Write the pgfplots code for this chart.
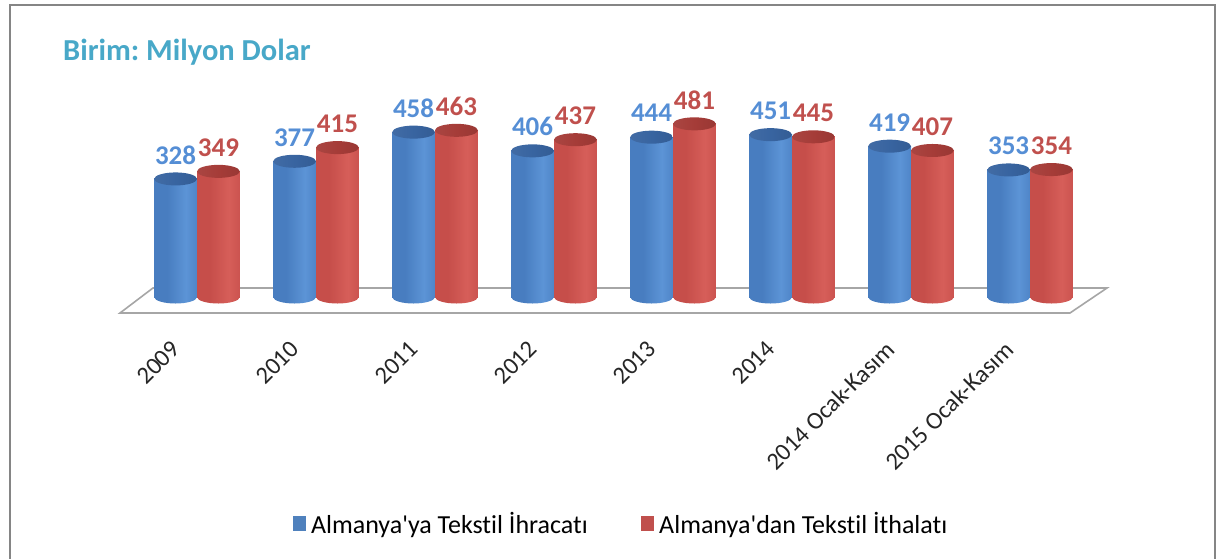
\documentclass[border=0pt]{standalone}
\usepackage{fontspec}
\setmainfont{Carlito}[Ligatures={NoCommon,TeXOff}]
\usepackage{pgfplots}
\usepackage{pgfplotstable}
\pgfplotsset{compat=1.18}
\frenchspacing

\definecolor{titlec}{RGB}{72,168,200}
\definecolor{blab}{RGB}{85,142,213}
\definecolor{rlab}{RGB}{192,80,77}
\definecolor{bE}{RGB}{55,98,160}
\definecolor{bB}{RGB}{72,125,192}
\definecolor{bH}{RGB}{92,148,214}
\definecolor{bD}{RGB}{50,88,140}
\definecolor{bT}{RGB}{56,100,160}
\definecolor{rE}{RGB}{170,58,55}
\definecolor{rB}{RGB}{198,78,74}
\definecolor{rH}{RGB}{214,94,89}
\definecolor{rD}{RGB}{150,48,45}
\definecolor{rT}{RGB}{165,60,56}
\definecolor{legB}{RGB}{79,129,189}
\definecolor{legR}{RGB}{192,80,77}

\pgfdeclarehorizontalshading{cylB}{100bp}{color(0bp)=(bE); color(12bp)=(bB); color(40bp)=(bB); color(62bp)=(bH); color(82bp)=(bB); color(100bp)=(bD)}
\pgfdeclarehorizontalshading{cylR}{100bp}{color(0bp)=(rE); color(12bp)=(rB); color(40bp)=(rB); color(62bp)=(rH); color(82bp)=(rB); color(100bp)=(rD)}
\pgfdeclarehorizontalshading{topB}{100bp}{color(0bp)=(bT!90!white); color(50bp)=(bT); color(100bp)=(bT!85!black)}
\pgfdeclarehorizontalshading{topR}{100bp}{color(0bp)=(rT!90!white); color(50bp)=(rT); color(100bp)=(rT!85!black)}

\pgfdeclareplotmark{cylBbot}{\path[draw=none, shading=cylB] (0pt,0pt) ellipse [x radius=21.4pt, y radius=6.5pt];}
\pgfdeclareplotmark{cylRbot}{\path[draw=none, shading=cylR] (0pt,0pt) ellipse [x radius=21.4pt, y radius=6.5pt];}
\pgfdeclareplotmark{cylBtop}{\path[draw=none, shading=topB] (0pt,0pt) ellipse [x radius=21.4pt, y radius=6.5pt];}
\pgfdeclareplotmark{cylRtop}{\path[draw=none, shading=topR] (0pt,0pt) ellipse [x radius=21.4pt, y radius=6.5pt];}

\pgfplotstableread{
g b r
0 328 349
1 377 415
2 458 463
3 406 437
4 444 481
5 451 445
6 419 407
7 353 354
}\datatable

% one shaded cylinder body per bar
\newcommand{\cyl}[3]{\addplot[ybar, bar width=0.36, bar shift=0pt, draw=none, shading=#3, forget plot] coordinates {(#1,#2)};}

\begin{document}
\begin{tikzpicture}
\begin{axis}[
  anchor=origin, at={(0pt,0pt)},
  x=119pt, y=0.36pt,
  xmin=-0.7, xmax=7.7, ymin=-44.4, ymax=500,
  clip=false,
  axis x line*=bottom, axis y line=none,
  axis line style={draw=none},
  major tick length=0pt,
  ytick=\empty,
  xtick={-0.225,0.775,1.775,2.775,3.775,4.775,5.775,6.775},
  xticklabels={2009,2010,2011,2012,2013,2014,2014 Ocak-Kasım,2015 Ocak-Kasım},
  xticklabel style={rotate=45, anchor=north east, inner sep=0pt, font=\fontsize{24.5}{28}\selectfont, text=black!85},
  xticklabel shift=26pt,
  /pgf/number format/assume math mode=true,
  legend columns=2,
  legend style={draw=none, fill=none, at={(0.5075,-1.0735)}, anchor=center,
    font=\fontsize{26}{30}\selectfont, text=black,
    /tikz/every even column/.append style={column sep=51pt}},
]
% floor
\addplot[fill=white, draw=black!35, line width=1.6pt, forget plot] coordinates {(-0.647,-44.4) (7.336,-44.4) (7.647,25) (-0.370,25)} --cycle;

% blue
\addplot[only marks, mark=cylBbot, forget plot] table[x expr=\thisrow{g}-0.18, y expr=0] {\datatable};
\cyl{-0.18}{328}{cylB}
\cyl{0.82}{377}{cylB}
\cyl{1.82}{458}{cylB}
\cyl{2.82}{406}{cylB}
\cyl{3.82}{444}{cylB}
\cyl{4.82}{451}{cylB}
\cyl{5.82}{419}{cylB}
\cyl{6.82}{353}{cylB}
\addplot[only marks, mark=cylBtop, forget plot] table[x expr=\thisrow{g}-0.18, y=b] {\datatable};

% red
\addplot[only marks, mark=cylRbot, forget plot] table[x expr=\thisrow{g}+0.18, y expr=0] {\datatable};
\cyl{0.18}{349}{cylR}
\cyl{1.18}{415}{cylR}
\cyl{2.18}{463}{cylR}
\cyl{3.18}{437}{cylR}
\cyl{4.18}{481}{cylR}
\cyl{5.18}{445}{cylR}
\cyl{6.18}{407}{cylR}
\cyl{7.18}{354}{cylR}
\addplot[only marks, mark=cylRtop, forget plot] table[x expr=\thisrow{g}+0.18, y=r] {\datatable};

% labels
\addplot[draw=none, mark=none, forget plot, nodes near coords,
  nodes near coords style={anchor=center, yshift=24pt, text=blab, font=\bfseries\fontsize{27}{30}\selectfont}]
  table[x expr=\thisrow{g}-0.18, y=b] {\datatable};
\addplot[draw=none, mark=none, forget plot, nodes near coords,
  nodes near coords style={anchor=center, yshift=24pt, text=rlab, font=\bfseries\fontsize{27}{30}\selectfont}]
  table[x expr=\thisrow{g}+0.18, y=r] {\datatable};

% legend
\addlegendimage{legend image code/.code={\fill[legB] (0pt,-7pt) rectangle (12pt,7pt);}}
\addlegendentry{\hspace{4pt}Almanya'ya Tekstil İhracatı}
\addlegendimage{legend image code/.code={\fill[legR] (0pt,-7pt) rectangle (12pt,7pt);}}
\addlegendentry{\hspace{4pt}Almanya'dan Tekstil İthalatı}
\end{axis}
\node[anchor=west, inner sep=0pt, text=titlec, font=\bfseries\fontsize{30.5}{34}\selectfont] at (-134pt,245pt) {Birim: Milyon Dolar};
\draw[black!48, line width=2pt] (-187pt,292pt) rectangle (1018pt,-320pt);
\pgfresetboundingbox
\useasboundingbox (-197pt,-261pt) rectangle (1023pt,297pt);
\end{tikzpicture}
\end{document}
